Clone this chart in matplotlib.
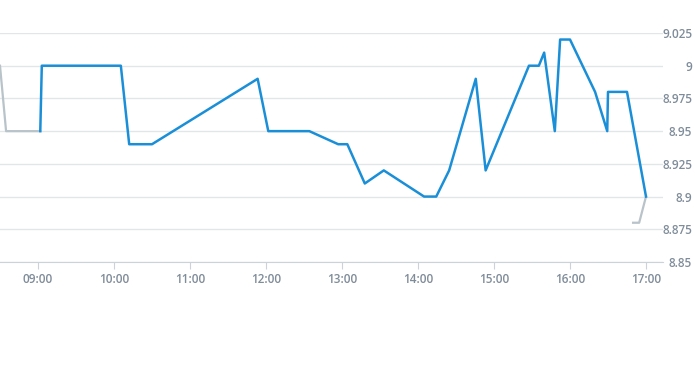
import matplotlib.pyplot as plt
from matplotlib.ticker import FuncFormatter

# horarios em horas decimais e precos
blue_times = [9.03, 9.05, 10.09, 10.2, 10.5, 11.89, 12.03, 12.57, 12.95, 13.07,
              13.3, 13.55, 14.08, 14.24, 14.41, 14.76, 14.89, 15.46, 15.59, 15.66,
              15.8, 15.87, 16.0, 16.33, 16.49, 16.5, 16.75, 17.0]
blue_prices = [8.95, 9.0, 9.0, 8.94, 8.94, 8.99, 8.95, 8.95, 8.94, 8.94,
               8.91, 8.92, 8.90, 8.90, 8.92, 8.99, 8.92, 9.0, 9.0, 9.01,
               8.95, 9.02, 9.02, 8.98, 8.95, 8.98, 8.98, 8.90]

gray_start_times = [8.5, 8.58, 9.03]
gray_start_prices = [9.0, 8.95, 8.95]
gray_end_times = [16.83, 16.91, 17.0]
gray_end_prices = [8.88, 8.88, 8.90]

y_ticks = [8.85, 8.875, 8.9, 8.925, 8.95, 8.975, 9.0, 9.025]
x_ticks = [9, 10, 11, 12, 13, 14, 15, 16, 17]

plt.rcParams['font.family'] = ['Open Sans', 'DejaVu Sans']

fig = plt.figure(figsize=(6.95, 3.7), dpi=100)
ax = fig.add_axes([0, 1 - 262 / 370, 663 / 695, (262 - 33) / 370])

grid_color = '#e3e6e8'
text_color = '#7f8c99'

ax.plot(gray_start_times, gray_start_prices, color='#b9c3ca', lw=1.6)
ax.plot(gray_end_times, gray_end_prices, color='#b9c3ca', lw=1.6)
ax.plot(blue_times, blue_prices, color='#1a8fd8', lw=1.8)

ax.set_xlim(8.5, 8.5 + 663 / 76)
ax.set_ylim(8.85, 9.025)
ax.set_yticks(y_ticks)
ax.set_xticks(x_ticks)
ax.yaxis.set_major_formatter(FuncFormatter(lambda v, p: f'{v:g}'))
ax.xaxis.set_major_formatter(FuncFormatter(lambda v, p: f'{int(v):02d}:00'))
ax.yaxis.tick_right()
ax.grid(axis='y', color=grid_color, lw=1)
ax.set_axisbelow(True)

for s in ['top', 'left', 'right']:
    ax.spines[s].set_visible(False)
ax.spines['bottom'].set_color('#ccd3d8')

ax.tick_params(axis='y', length=0, pad=21, labelsize=8.5, labelcolor=text_color)
ax.tick_params(axis='x', length=5, color='#ccd3d8', pad=3, labelsize=8.5, labelcolor=text_color)
for lbl in ax.get_yticklabels():
    lbl.set_horizontalalignment('right')
    lbl.set_fontweight('semibold')
for lbl in ax.get_xticklabels():
    lbl.set_fontweight('semibold')

fig.savefig('out.png', dpi=100)
